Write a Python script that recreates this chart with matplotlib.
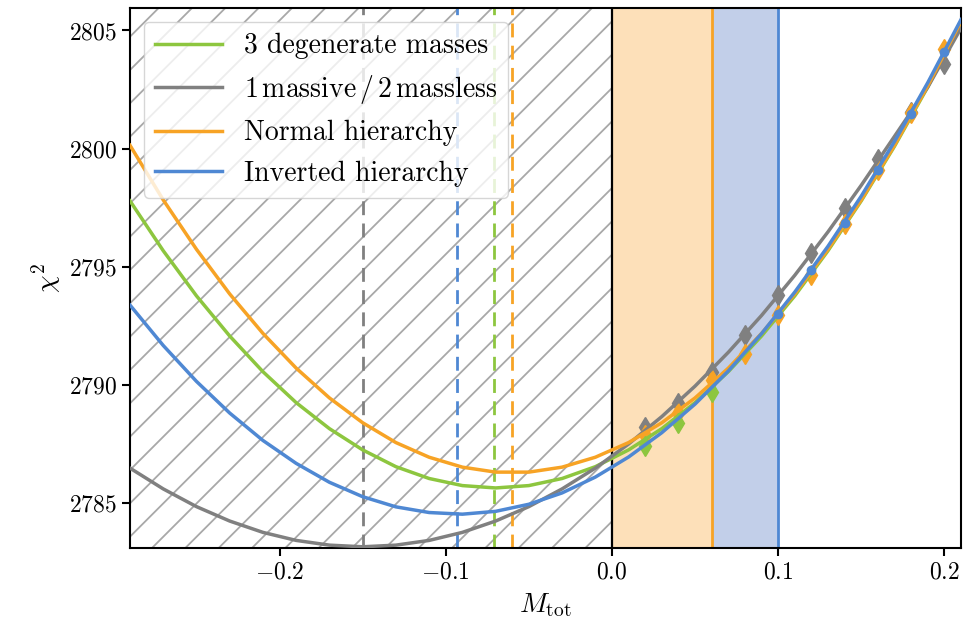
import matplotlib
matplotlib.use("Agg")
import matplotlib.pyplot as plt
import numpy as np

plt.rcParams['font.family'] = 'serif'
plt.rcParams['font.serif'] = ['cmr10']
plt.rcParams['mathtext.fontset'] = 'cm'
plt.rcParams['axes.formatter.use_mathtext'] = True
plt.rcParams['axes.unicode_minus'] = True
plt.rcParams['hatch.linewidth'] = 1.3
plt.rcParams['hatch.color'] = '#a8a8a8'

# total mass grid for the chi^2 curves
m_grid = [-0.29, -0.27, -0.25, -0.23, -0.21, -0.19, -0.17, -0.15, -0.13,
          -0.11, -0.09, -0.07, -0.05, -0.03, -0.01, 0.01, 0.03, 0.05, 0.07,
          0.09, 0.11, 0.13, 0.15, 0.17, 0.19, 0.21]

chi2_degenerate = [2797.79, 2795.68, 2793.77, 2792.07, 2790.56, 2789.25, 2788.15,
                   2787.25, 2786.54, 2786.04, 2785.74, 2785.64, 2785.74, 2786.04,
                   2786.54, 2787.25, 2788.15, 2789.25, 2790.56, 2792.07, 2793.77,
                   2795.68, 2797.79, 2800.10, 2802.61, 2805.32]
chi2_one_massive = [2786.48, 2785.60, 2784.85, 2784.24, 2783.76, 2783.42, 2783.22,
                    2783.15, 2783.22, 2783.42, 2783.76, 2784.24, 2784.85, 2785.60,
                    2786.48, 2787.50, 2788.66, 2789.95, 2791.38, 2792.94, 2794.64,
                    2796.48, 2798.45, 2800.52, 2802.60, 2805.10]
chi2_normal = [2800.14, 2797.83, 2795.74, 2793.85, 2792.18, 2790.71, 2789.45,
               2788.40, 2787.56, 2786.94, 2786.52, 2786.31, 2786.31, 2786.52,
               2786.94, 2787.56, 2788.40, 2789.45, 2790.71, 2792.18, 2793.85,
               2795.74, 2797.83, 2800.14, 2802.66, 2805.38]
chi2_inverted = [2793.38, 2791.67, 2790.15, 2788.81, 2787.65, 2786.68, 2785.88,
                 2785.27, 2784.84, 2784.60, 2784.53, 2784.65, 2784.95, 2785.43,
                 2786.10, 2786.95, 2787.98, 2789.19, 2790.59, 2792.17, 2793.93,
                 2795.87, 2797.99, 2800.30, 2802.79, 2805.46]

# sampled points (markers)
pts_m = [0.02, 0.04, 0.06, 0.08, 0.10, 0.12, 0.14, 0.16, 0.18, 0.20]
pts_one_massive = [2788.2, 2789.25, 2790.55, 2792.1, 2793.8, 2795.6, 2797.5,
                   2799.55, 2801.55, 2803.6]
pts_normal = [2787.9, 2788.8, 2790.2, 2791.3, 2792.95, 2794.65, 2796.8,
              2799.1, 2801.5, 2804.2]
pts_deg_m = [0.02, 0.04, 0.06]
pts_degenerate = [2787.4, 2788.4, 2789.7]
pts_inv_m = [0.10, 0.12, 0.14, 0.16, 0.18, 0.20]
pts_inverted = [2793.0, 2794.87, 2796.87, 2799.09, 2801.47, 2804.1]

# best-fit minima (dashed lines)
min_one_massive = -0.15
min_inverted = -0.093
min_degenerate = -0.071
min_normal = -0.060

# physical lower bounds
nh_bound = 0.06
ih_bound = 0.10

c_green = '#8dc63f'
c_gray = '#808080'
c_orange = '#f7a325'
c_blue = '#4f88d3'

fig = plt.figure(figsize=(9.67, 6.3), dpi=100)
ax = fig.add_axes([0.1344, 0.1302, 0.8594, 0.8571])

xmin, xmax = -0.29, 0.21
ymin, ymax = 2783.1, 2805.95

# unphysical region
ax.fill_betweenx([ymin, ymax], xmin, 0, facecolor='white', edgecolor='#a8a8a8',
                 hatch='/', linewidth=0, zorder=0)
ax.axvspan(0, nh_bound, color='#fde0b9', lw=0, zorder=0)
ax.axvspan(nh_bound, ih_bound, color='#c2cfe9', lw=0, zorder=0)
ax.axvline(0, color='black', lw=1.6, zorder=1)
ax.axvline(nh_bound, color=c_orange, lw=2, zorder=1)
ax.axvline(ih_bound, color=c_blue, lw=2, zorder=1)

for xm, c in [(min_one_massive, c_gray), (min_inverted, c_blue),
              (min_degenerate, c_green), (min_normal, c_orange)]:
    ax.axvline(xm, color=c, lw=2, ls=(0, (5, 3)), zorder=1)

ax.plot(pts_m, pts_one_massive, 'd', color=c_gray, ms=10, zorder=2)
ax.plot(pts_m, pts_normal, 'd', color=c_orange, ms=10, zorder=2)
ax.plot(pts_deg_m, pts_degenerate, 'd', color=c_green, ms=10, zorder=2)
ax.plot(pts_inv_m, pts_inverted, 'o', color=c_blue, ms=6, zorder=4)

ax.plot(m_grid, chi2_degenerate, color=c_green, lw=2.5, zorder=3,
        label='3 degenerate masses')
ax.plot(m_grid, chi2_one_massive, color=c_gray, lw=2.5, zorder=3,
        label=r'1$\,$massive$\,$/$\,$2$\,$massless')
ax.plot(m_grid, chi2_normal, color=c_orange, lw=2.5, zorder=3,
        label='Normal hierarchy')
ax.plot(m_grid, chi2_inverted, color=c_blue, lw=2.5, zorder=3,
        label='Inverted hierarchy')

ax.set_xlim(xmin, xmax)
ax.set_ylim(ymin, ymax)
ax.set_xticks([-0.2, -0.1, 0.0, 0.1, 0.2])
ax.set_yticks([2785, 2790, 2795, 2800, 2805])
ax.tick_params(labelsize=17, width=1.5, length=6)
for s in ax.spines.values():
    s.set_linewidth(1.5)

ax.set_xlabel(r'$M_{\rm tot}$', fontsize=20, labelpad=6)
ax.set_ylabel(r'$\chi^2$', fontsize=20)

leg = ax.legend(loc='upper left', fontsize=20, handlelength=2.4,
                borderaxespad=0.5, labelspacing=0.5, framealpha=0.8)
for ln in leg.get_lines():
    ln.set_linewidth(2.5)

fig.savefig('out.png', dpi=100)
